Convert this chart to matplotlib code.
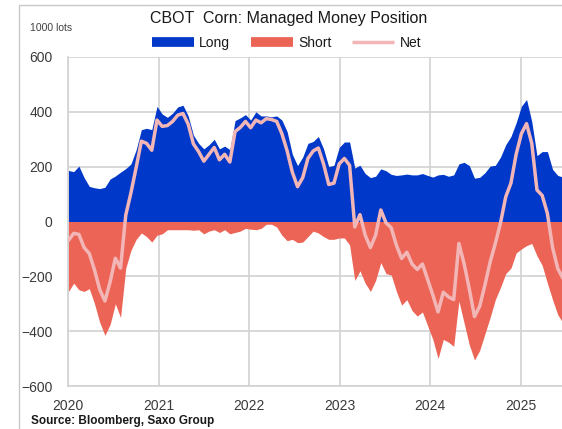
import matplotlib
matplotlib.use("Agg")
import matplotlib.pyplot as plt
import matplotlib.dates as mdates
from matplotlib.lines import Line2D
from matplotlib.patches import Rectangle
import numpy as np
import pandas as pd

plt.rcParams['font.family'] = ['Liberation Sans', 'DejaVu Sans']

# CFTC managed money positions in corn, 1000 lots (every 3 weeks)
dates = pd.date_range("2020-01-03", periods=96, freq="21D")

long_pos = [186, 182, 202, 160, 128, 123, 120, 125, 155, 166,
            180, 193, 210, 262, 335, 340, 335, 420, 392, 380,
            395, 418, 424, 385, 315, 285, 265, 280, 300, 265,
            275, 262, 368, 378, 390, 370, 400, 385, 385, 382,
            385, 370, 328, 245, 204, 235, 285, 292, 310, 265,
            200, 205, 270, 290, 290, 195, 205, 175, 160, 165,
            192, 185, 172, 168, 170, 173, 170, 170, 175, 168,
            162, 170, 172, 165, 170, 210, 216, 204, 158, 161,
            178, 202, 205, 235, 280, 310, 360, 420, 445, 365,
            240, 255, 255, 190, 168, 162]

short_pos = [-255, -225, -249, -255, -245, -300, -368, -415, -375, -300,
             -350, -170, -105, -65, -42, -55, -75, -50, -45, -30,
             -30, -30, -30, -30, -32, -30, -45, -35, -30, -40,
             -30, -45, -40, -35, -25, -28, -30, -25, -10, -10,
             -20, -50, -70, -65, -77, -75, -55, -35, -42, -55,
             -65, -65, -60, -60, -85, -215, -180, -225, -255, -215,
             -150, -190, -195, -255, -305, -285, -325, -345, -330, -380,
             -430, -500, -430, -440, -455, -290, -370, -450, -505, -470,
             -410, -350, -285, -240, -190, -170, -115, -100, -88, -80,
             -125, -160, -225, -285, -340, -370]

net_pos = np.array(long_pos) + np.array(short_pos)

fig = plt.figure(figsize=(5.62, 4.29), dpi=100)
ax = fig.add_axes([68 / 562, 1 - 386 / 429, 1 - 68 / 562, (386 - 57) / 429])

ax.fill_between(dates, 0, long_pos, color="#0038C9", lw=0, zorder=2)
ax.fill_between(dates, 0, short_pos, color="#EC6456", lw=0, zorder=2)
ax.plot(dates, net_pos, color="#F2B6B6", lw=2.5, zorder=3, solid_capstyle="round")

ax.set_xlim(pd.Timestamp("2020-01-01"), pd.Timestamp("2025-06-16"))
ax.set_ylim(-600, 600)
ax.set_yticks(np.arange(-600, 601, 200))
ax.xaxis.set_major_locator(mdates.YearLocator())
ax.xaxis.set_major_formatter(mdates.DateFormatter("%Y"))
ax.grid(True, color="#D2D2D2", lw=1.2, zorder=0)
ax.set_axisbelow(True)
ax.tick_params(length=0, labelsize=10, colors="#3A3A3A")
ax.tick_params(axis="x", pad=9)
ax.tick_params(axis="y", pad=11)
for side in ["top", "right"]:
    ax.spines[side].set_visible(False)
for side in ["left", "bottom"]:
    ax.spines[side].set_color("#D2D2D2")
    ax.spines[side].set_linewidth(1.2)

# outer frame of the graphic
fig.patches.append(Rectangle((19 / 562, -0.05), 1.0, 1.05 - 5 / 429, transform=fig.transFigure,
                             fill=False, edgecolor="#C8C8C8", lw=1.0))

fig.text(0.513, 1 - 18 / 429, "CBOT  Corn: Managed Money Position", ha="center", va="center",
         fontsize=11.5, color="#1A1A1A")
fig.text(30 / 562, 1 - 28 / 429, "1000 lots", ha="left", va="center", fontsize=7.5, color="#404040")
fig.text(31 / 562, 1 - 421 / 429, "Source: Bloomberg, Saxo Group", ha="left", va="center",
         fontsize=8.5, fontweight="bold", color="#1A1A1A")

handles = [Line2D([], [], color="#0038C9", lw=7, solid_capstyle="butt"),
           Line2D([], [], color="#EC6456", lw=7, solid_capstyle="butt"),
           Line2D([], [], color="#F2B6B6", lw=2.5, solid_capstyle="butt")]
fig.legend(handles, ["Long", "Short", "Net"], loc="center", bbox_to_anchor=(0.51, 1 - 43 / 429),
           ncol=3, frameon=False, fontsize=10, handlelength=3, handletextpad=0.4, columnspacing=1.5,
           labelcolor="#1A1A1A")

plt.savefig("out.png", dpi=100)
